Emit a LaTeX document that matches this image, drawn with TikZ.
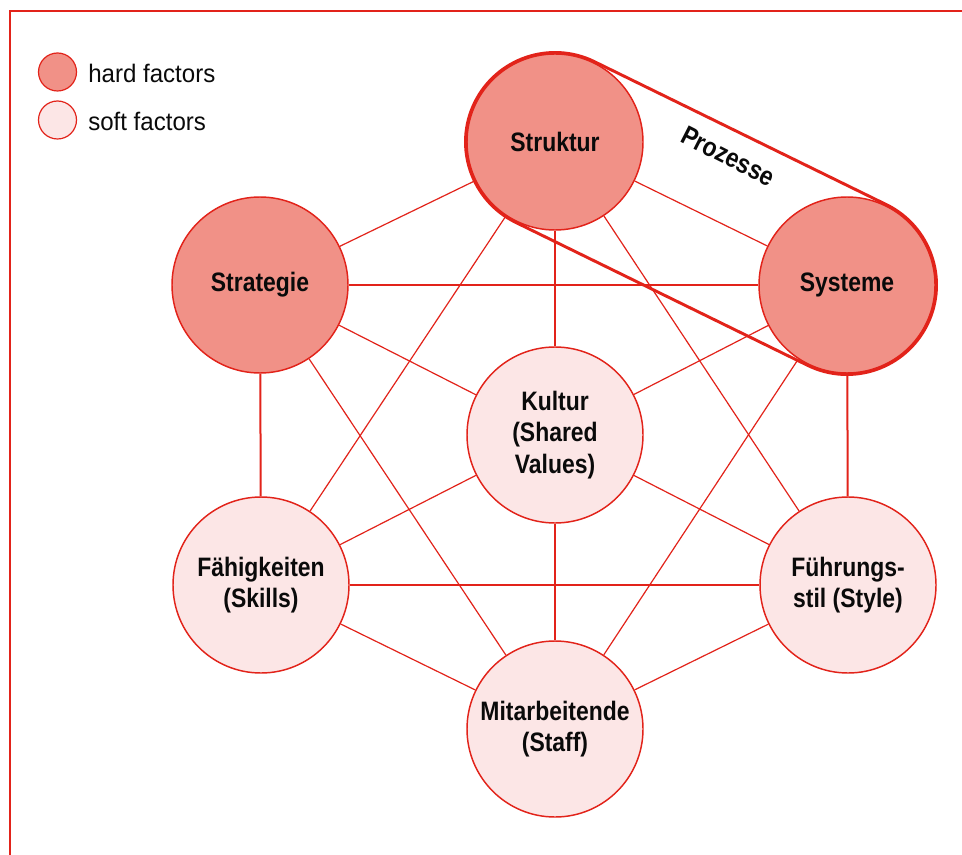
\documentclass[tikz,border=0pt]{standalone}
\usepackage{fontspec}
\setmainfont{Liberation Sans}[FakeStretch=0.86]
\newfontfamily\legendfont{Liberation Sans}[FakeStretch=0.95]
\usetikzlibrary{calc}
\definecolor{redline}{RGB}{226,35,26}
\definecolor{hardfill}{RGB}{241,145,135}
\definecolor{softfill}{RGB}{252,230,230}
\definecolor{txt}{RGB}{10,10,10}
\begin{document}
\begin{tikzpicture}[x=0.75pt,y=0.75pt,
 factor/.style={circle, draw=redline, line width=1.1pt, minimum size=132pt, inner sep=0pt, align=center, font=\bfseries\fontsize{20}{23.5}\selectfont, text=txt},
 hard/.style={factor, fill=hardfill},
 soft/.style={factor, fill=softfill},
 hv/.style={draw=redline, line width=1.5pt},
 diag/.style={draw=redline, line width=0.9pt},
 legendcirc/.style={circle, draw=redline, line width=0.9pt, minimum size=28.5pt, inner sep=0pt},
 legendtxt/.style={anchor=west, font=\legendfont\fontsize{19}{22}\selectfont, text=txt, inner sep=0pt},
 hull/.style={draw=redline, line width=2.2pt, line join=round}
]
\useasboundingbox (0,0) rectangle (962,-855);
\fill[white] (0,0) rectangle (962,-855);
\draw[redline, line width=1.5pt] (10,-856) -- (10,-11) -- (963,-11);

% legend
\node[legendcirc, fill=hardfill] (lhard) at (57.5,-72) {};
\node[legendcirc, fill=softfill] (lsoft) at (57.5,-120) {};
\node[legendtxt] (thard) at (88,-73) {hard factors};
\node[legendtxt] (tsoft) at (88,-121) {soft factors};

% factors
\node[hard] (struktur) at (555,-142) {Struktur};
\node[hard] (systeme) at (847,-285) {Systeme};
\node[hard] (strategie) at (260,-285) {Strategie};
\node[soft] (kultur) at (555,-435) {Kultur\\(Shared\\Values)};
\node[soft] (faehig) at (261,-585) {Fähigkeiten\\(Skills)};
\node[soft] (fuehr) at (848,-585) {Führungs-\\stil (Style)};
\node[soft] (mitarb) at (555,-729) {Mitarbeitende\\(Staff)};

% horizontal / vertical connectors
\draw[hv] (struktur) -- (kultur);
\draw[hv] (kultur) -- (mitarb);
\draw[hv] (strategie) -- (systeme);
\draw[hv] (faehig) -- (fuehr);
\draw[hv] (strategie) -- (faehig);
\draw[hv] (systeme) -- (fuehr);

% diagonal connectors
\draw[diag] (struktur) -- (strategie);
\draw[diag] (struktur) -- (systeme);
\draw[diag] (struktur) -- (faehig);
\draw[diag] (struktur) -- (fuehr);
\draw[diag] (strategie) -- (kultur);
\draw[diag] (strategie) -- (mitarb);
\draw[diag] (systeme) -- (kultur);
\draw[diag] (systeme) -- (mitarb);
\draw[diag] (kultur) -- (faehig);
\draw[diag] (kultur) -- (fuehr);
\draw[diag] (faehig) -- (mitarb);
\draw[diag] (fuehr) -- (mitarb);

% Prozesse hull
\draw[hull] ($(struktur.center)+(63.91:89.5)$) -- ($(systeme.center)+(63.91:89.5)$)
  arc[start angle=63.91, end angle=-116.09, radius=89.5]
  -- ($(struktur.center)+(-116.09:89.5)$)
  arc[start angle=243.91, end angle=63.91, radius=89.5] -- cycle;
\node[rotate=-27, font=\bfseries\fontsize{20}{23}\selectfont, text=txt] (prozesse) at (728,-156) {Prozesse};
\end{tikzpicture}
\end{document}
